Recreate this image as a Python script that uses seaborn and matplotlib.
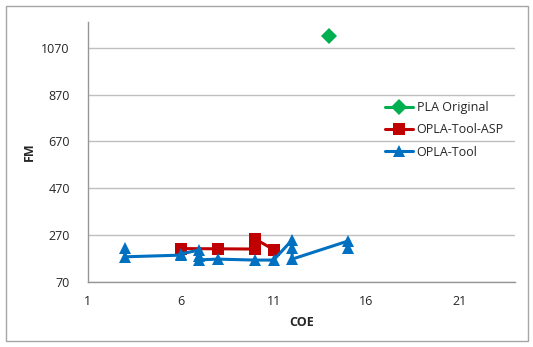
import matplotlib
matplotlib.use("Agg")
import matplotlib.pyplot as plt
import seaborn as sns
import pandas as pd
from matplotlib.patches import Rectangle

# Series values (COE vs FM)
pla_coe = [14]
pla_fm = [1120]

asp_coe = [6, 8, 10, 10, 11]
asp_fm = [213, 212, 211, 254, 209]

tool_coe = [3, 3, 6, 6, 7, 7, 7, 8, 10, 11, 12, 12, 12, 15, 15]
tool_fm = [215, 178, 185, 190, 207, 180, 165, 168, 164, 164, 250, 215, 168, 245, 215]

x_ticks = [1, 6, 11, 16, 21]
y_ticks = [70, 270, 470, 670, 870, 1070]

sns.set_style("white")
plt.rcParams["font.family"] = ["Open Sans", "DejaVu Sans"]

fig = plt.figure(figsize=(5.33, 3.47), dpi=100)
ax = fig.add_axes([0.165, 0.187, 0.801, 0.750])

series = [
    ("PLA Original", pla_coe, pla_fm, "#00B050", "D", 8.5),
    ("OPLA-Tool-ASP", asp_coe, asp_fm, "#C00000", "s", 8.5),
    ("OPLA-Tool", tool_coe, tool_fm, "#0070C0", "^", 9),
]
for name, xs, ys, color, mk, ms in series:
    df = pd.DataFrame({"COE": xs, "FM": ys})
    sns.lineplot(data=df, x="COE", y="FM", ax=ax, sort=False, estimator=None,
                 color=color, marker=mk, markersize=ms, markeredgewidth=0,
                 linewidth=2.2, label=name)

ax.set_xlim(1, 24)
ax.set_ylim(70, 1180)
ax.set_xticks(x_ticks)
ax.set_yticks(y_ticks)
ax.yaxis.grid(True, color="#BFBFBF", linewidth=1)
ax.xaxis.grid(False)
for s in ["top", "right"]:
    ax.spines[s].set_visible(False)
for s in ["left", "bottom"]:
    ax.spines[s].set_color("#969696")
    ax.spines[s].set_linewidth(1)
ax.tick_params(axis="both", direction="out", length=5, width=1, color="#969696",
               labelsize=9, labelcolor="#262626", pad=4)
ax.tick_params(axis="y", pad=8)
ax.set_xlabel("COE", fontsize=9, fontweight="bold", color="#262626", labelpad=6)
ax.set_ylabel("FM", fontsize=9, fontweight="bold", color="#262626", labelpad=4)

leg = ax.legend(loc="upper left", bbox_to_anchor=(0.685, 0.715), frameon=False,
                fontsize=9, handlelength=2.2, handletextpad=0.3, labelspacing=0.75,
                borderaxespad=0)
for t in leg.get_texts():
    t.set_color("#262626")

fig.patches.append(Rectangle((0.012, 0.018), 0.978, 0.965, transform=fig.transFigure,
                             fill=False, edgecolor="#A6A6A6", linewidth=1))

fig.savefig("out.png", dpi=100)
